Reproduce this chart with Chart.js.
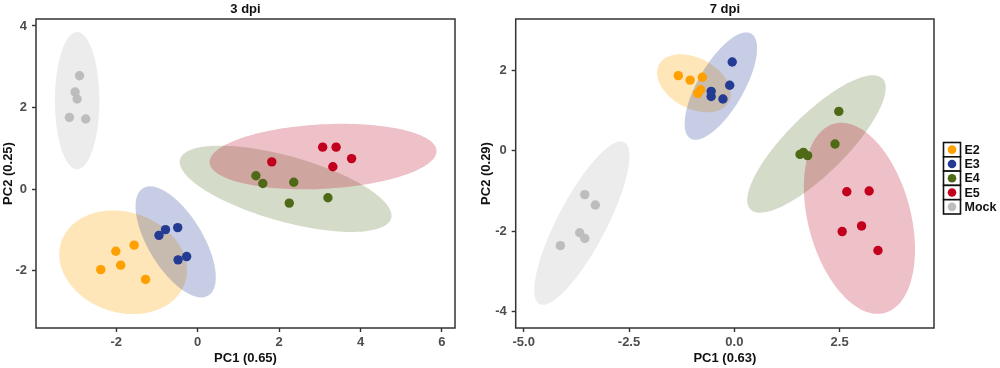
<!DOCTYPE html>
<html>
<head>
<meta charset="utf-8">
<title>PCA 3 dpi / 7 dpi</title>
<script src="https://cdn.jsdelivr.net/npm/chart.js@4.4.1/dist/chart.umd.min.js"></script>
<style>
  html, body { margin: 0; padding: 0; background: #fff; }
  #wrap { position: relative; width: 1000px; height: 368px; overflow: hidden; }
  .panel { position: absolute; top: 0; height: 368px; }
  #left { left: 0; width: 466px; }
  #right { left: 476px; width: 524px; }
</style>
</head>
<body>
<div id="wrap">
  <div class="panel" id="left"><canvas id="chart3"></canvas></div>
  <div class="panel" id="right"><canvas id="chart7"></canvas></div>
</div>
<script>
/* ===== Data ===== */
const groups = ['E2', 'E3', 'E4', 'E5', 'Mock'];

// 3 dpi — one row per group (E2, E3, E4, E5, Mock)
const pc1_3dpi = [
  [-2.01, -1.56, -1.89, -2.38, -1.28],
  [-0.95, -0.79, -0.49, -0.48, -0.27],
  [1.43, 1.60, 2.36, 2.25, 3.20],
  [1.82, 3.07, 3.40, 3.78, 3.32],
  [-2.90, -3.01, -2.96, -3.15, -2.75]
];
const pc2_3dpi = [
  [-1.52, -1.37, -1.86, -1.97, -2.21],
  [-1.13, -0.99, -0.94, -1.73, -1.65],
  [0.33, 0.14, 0.17, -0.34, -0.21],
  [0.67, 1.03, 1.03, 0.75, 0.55],
  [2.78, 2.38, 2.21, 1.76, 1.72]
];
// ellipse per group: [centre PC1, centre PC2, semi-major, semi-minor, angle deg]
const ellipse_3dpi = [
  [-1.83, -1.79, 1.60, 1.23, -18],
  [-0.54, -1.29, 1.54, 0.67, -58.6],
  [2.16, 0.01, 2.69, 0.80, -15.6],
  [3.08, 0.80, 2.79, 0.79, 3],
  [-2.96, 2.17, 1.68, 0.545, 90]
];
const ticksX_3dpi = [-2, 0, 2, 4, 6];
const ticksY_3dpi = [-2, 0, 2, 4];

// 7 dpi
const pc1_7dpi = [
  [-1.33, -1.05, -0.76, -0.80, -0.87],
  [-0.05, -0.11, -0.55, -0.55, -0.27],
  [2.48, 2.39, 1.56, 1.64, 1.74],
  [2.67, 3.20, 2.56, 3.02, 3.41],
  [-3.55, -3.30, -3.67, -3.55, -4.13]
];
const pc2_7dpi = [
  [1.87, 1.76, 1.83, 1.52, 1.43],
  [2.21, 1.63, 1.48, 1.35, 1.29],
  [0.98, 0.17, -0.09, -0.04, -0.12],
  [-1.02, -1.00, -2.01, -1.87, -2.48],
  [-1.09, -1.35, -2.04, -2.18, -2.36]
];
const ellipse_7dpi = [
  [-0.96, 1.68, 0.95, 0.62, -31],
  [-0.32, 1.61, 1.49, 0.55, 61.5],
  [1.95, 0.17, 2.26, 0.72, 46.4],
  [2.97, -1.68, 2.43, 1.22, -76.2],
  [-3.62, -1.80, 2.25, 0.585, 63.6]
];
const ticksX_7dpi = [-5, -2.5, 0, 2.5];
const ticksY_7dpi = [-4, -2, 0, 2];

/* ===== Style ===== */
const pointColors = ['#ff9f00', '#233b93', '#4e6a17', '#c2001d', '#bdbdbd'];
const fillColors = [
  'rgba(255, 165, 0, 0.28)',
  'rgba(40, 60, 150, 0.26)',
  'rgba(80, 105, 30, 0.24)',
  'rgba(190, 10, 40, 0.26)',
  'rgba(180, 180, 180, 0.25)'
];
const fontFamily = "'Liberation Sans', Arial, sans-serif";

/* ===== Plugins ===== */
function ellipsePlugin(shapes) {
  return {
    id: 'ellipses',
    beforeDatasetsDraw(chart) {
      const { ctx, chartArea: a, scales: { x, y } } = chart;
      ctx.save();
      ctx.beginPath();
      ctx.rect(a.left, a.top, a.width, a.height);
      ctx.clip();
      shapes.forEach((e, i) => {
        const [cx, cy, ra, rb, deg] = e;
        const th = deg * Math.PI / 180;
        ctx.beginPath();
        for (let k = 0; k <= 144; k++) {
          const t = k / 144 * Math.PI * 2;
          const dx = ra * Math.cos(t);
          const dy = rb * Math.sin(t);
          const px = x.getPixelForValue(cx + dx * Math.cos(th) - dy * Math.sin(th));
          const py = y.getPixelForValue(cy + dx * Math.sin(th) + dy * Math.cos(th));
          if (k === 0) ctx.moveTo(px, py); else ctx.lineTo(px, py);
        }
        ctx.closePath();
        ctx.fillStyle = fillColors[i];
        ctx.fill();
      });
      ctx.restore();
    }
  };
}

const framePlugin = {
  id: 'frame',
  afterDatasetsDraw(chart) {
    const { ctx, chartArea: a } = chart;
    ctx.save();
    ctx.strokeStyle = '#333';
    ctx.lineWidth = 1.5;
    ctx.strokeRect(a.left, a.top, a.width, a.height);
    ctx.restore();
  }
};

const keyLegendPlugin = {
  id: 'keyLegend',
  afterDraw(chart) {
    const { ctx, chartArea } = chart;
    const x0 = chartArea.right + 9.5;
    const y0 = 142.5;
    const w = 17, h = 14.3;
    ctx.save();
    groups.forEach((g, i) => {
      const y = y0 + i * h;
      ctx.fillStyle = '#fff';
      ctx.fillRect(x0, y, w, h);
      ctx.lineWidth = 1.6;
      ctx.strokeStyle = '#111';
      ctx.strokeRect(x0, y, w, h);
      ctx.beginPath();
      ctx.arc(x0 + w / 2, y + h / 2, 4.3, 0, Math.PI * 2);
      ctx.fillStyle = pointColors[i];
      ctx.fill();
      ctx.fillStyle = '#111';
      ctx.font = 'bold 12.5px ' + fontFamily;
      ctx.textBaseline = 'middle';
      ctx.fillText(g, x0 + w + 4, y + h / 2 + 0.5);
    });
    ctx.restore();
  }
};

/* ===== Chart builder ===== */
function makePcaChart(id, cfg) {
  const datasets = groups.map((g, i) => ({
    label: g,
    data: cfg.pc1[i].map((v, j) => ({ x: v, y: cfg.pc2[i][j] })),
    backgroundColor: pointColors[i],
    borderWidth: 0,
    pointRadius: 4.7
  }));

  const tickGrid = {
    drawOnChartArea: false,
    drawTicks: true,
    tickLength: 4,
    tickColor: '#333',
    tickWidth: 1.4
  };
  const tickFont = { family: fontFamily, size: 13, weight: 'bold' };
  const titleFont = { family: fontFamily, size: 13, weight: 'bold' };

  const plugins = [ellipsePlugin(cfg.ellipses), framePlugin];
  if (cfg.legend) plugins.push(keyLegendPlugin);

  return new Chart(document.getElementById(id), {
    type: 'scatter',
    data: { datasets },
    plugins,
    options: {
      responsive: true,
      maintainAspectRatio: false,
      animation: false,
      events: [],
      layout: { padding: { left: 0, right: cfg.padRight, top: 0, bottom: 0 } },
      scales: {
        x: {
          type: 'linear',
          min: cfg.xRange[0],
          max: cfg.xRange[1],
          afterBuildTicks: s => { s.ticks = cfg.xTicks.map(v => ({ value: v })); },
          afterFit: s => { s.height = 40; },
          grid: tickGrid,
          border: { display: false },
          ticks: {
            color: '#4d4d4d',
            font: tickFont,
            padding: 3,
            maxRotation: 0,
            autoSkip: false,
            callback: v => v.toFixed(cfg.xDecimals)
          },
          title: {
            display: true,
            text: cfg.xTitle,
            color: '#111',
            font: titleFont,
            padding: { top: 0, bottom: 2.2 }
          }
        },
        y: {
          type: 'linear',
          min: cfg.yRange[0],
          max: cfg.yRange[1],
          afterBuildTicks: s => { s.ticks = cfg.yTicks.map(v => ({ value: v })); },
          afterFit: s => { s.width = cfg.yAxisWidth; },
          grid: tickGrid,
          border: { display: false },
          ticks: {
            color: '#4d4d4d',
            font: tickFont,
            padding: 5,
            autoSkip: false,
            callback: v => v.toFixed(0)
          },
          title: {
            display: true,
            text: cfg.yTitle,
            color: '#111',
            font: titleFont,
            padding: { top: cfg.yTitlePad, bottom: 0 }
          }
        }
      },
      plugins: {
        legend: { display: false },
        tooltip: { enabled: false },
        title: {
          display: true,
          text: cfg.title,
          fullSize: false,
          color: '#111',
          font: titleFont,
          padding: { top: 1.6, bottom: 1.8 }
        }
      }
    }
  });
}

/* ===== Init ===== */
makePcaChart('chart3', {
  title: '3 dpi',
  xTitle: 'PC1 (0.65)',
  yTitle: 'PC2 (0.25)',
  pc1: pc1_3dpi,
  pc2: pc2_3dpi,
  ellipses: ellipse_3dpi,
  xRange: [-3.97, 6.32],
  yRange: [-3.40, 4.17],
  xTicks: ticksX_3dpi,
  yTicks: ticksY_3dpi,
  xDecimals: 0,
  yAxisWidth: 36,
  yTitlePad: 0.7,
  padRight: 11,
  legend: false
});

makePcaChart('chart7', {
  title: '7 dpi',
  xTitle: 'PC1 (0.63)',
  yTitle: 'PC2 (0.29)',
  pc1: pc1_7dpi,
  pc2: pc2_7dpi,
  ellipses: ellipse_7dpi,
  xRange: [-5.19, 4.74],
  yRange: [-4.41, 3.28],
  xTicks: ticksX_7dpi,
  yTicks: ticksY_7dpi,
  xDecimals: 1,
  yAxisWidth: 39.7,
  yTitlePad: 2.2,
  padRight: 66,
  legend: true
});
</script>
</body>
</html>
